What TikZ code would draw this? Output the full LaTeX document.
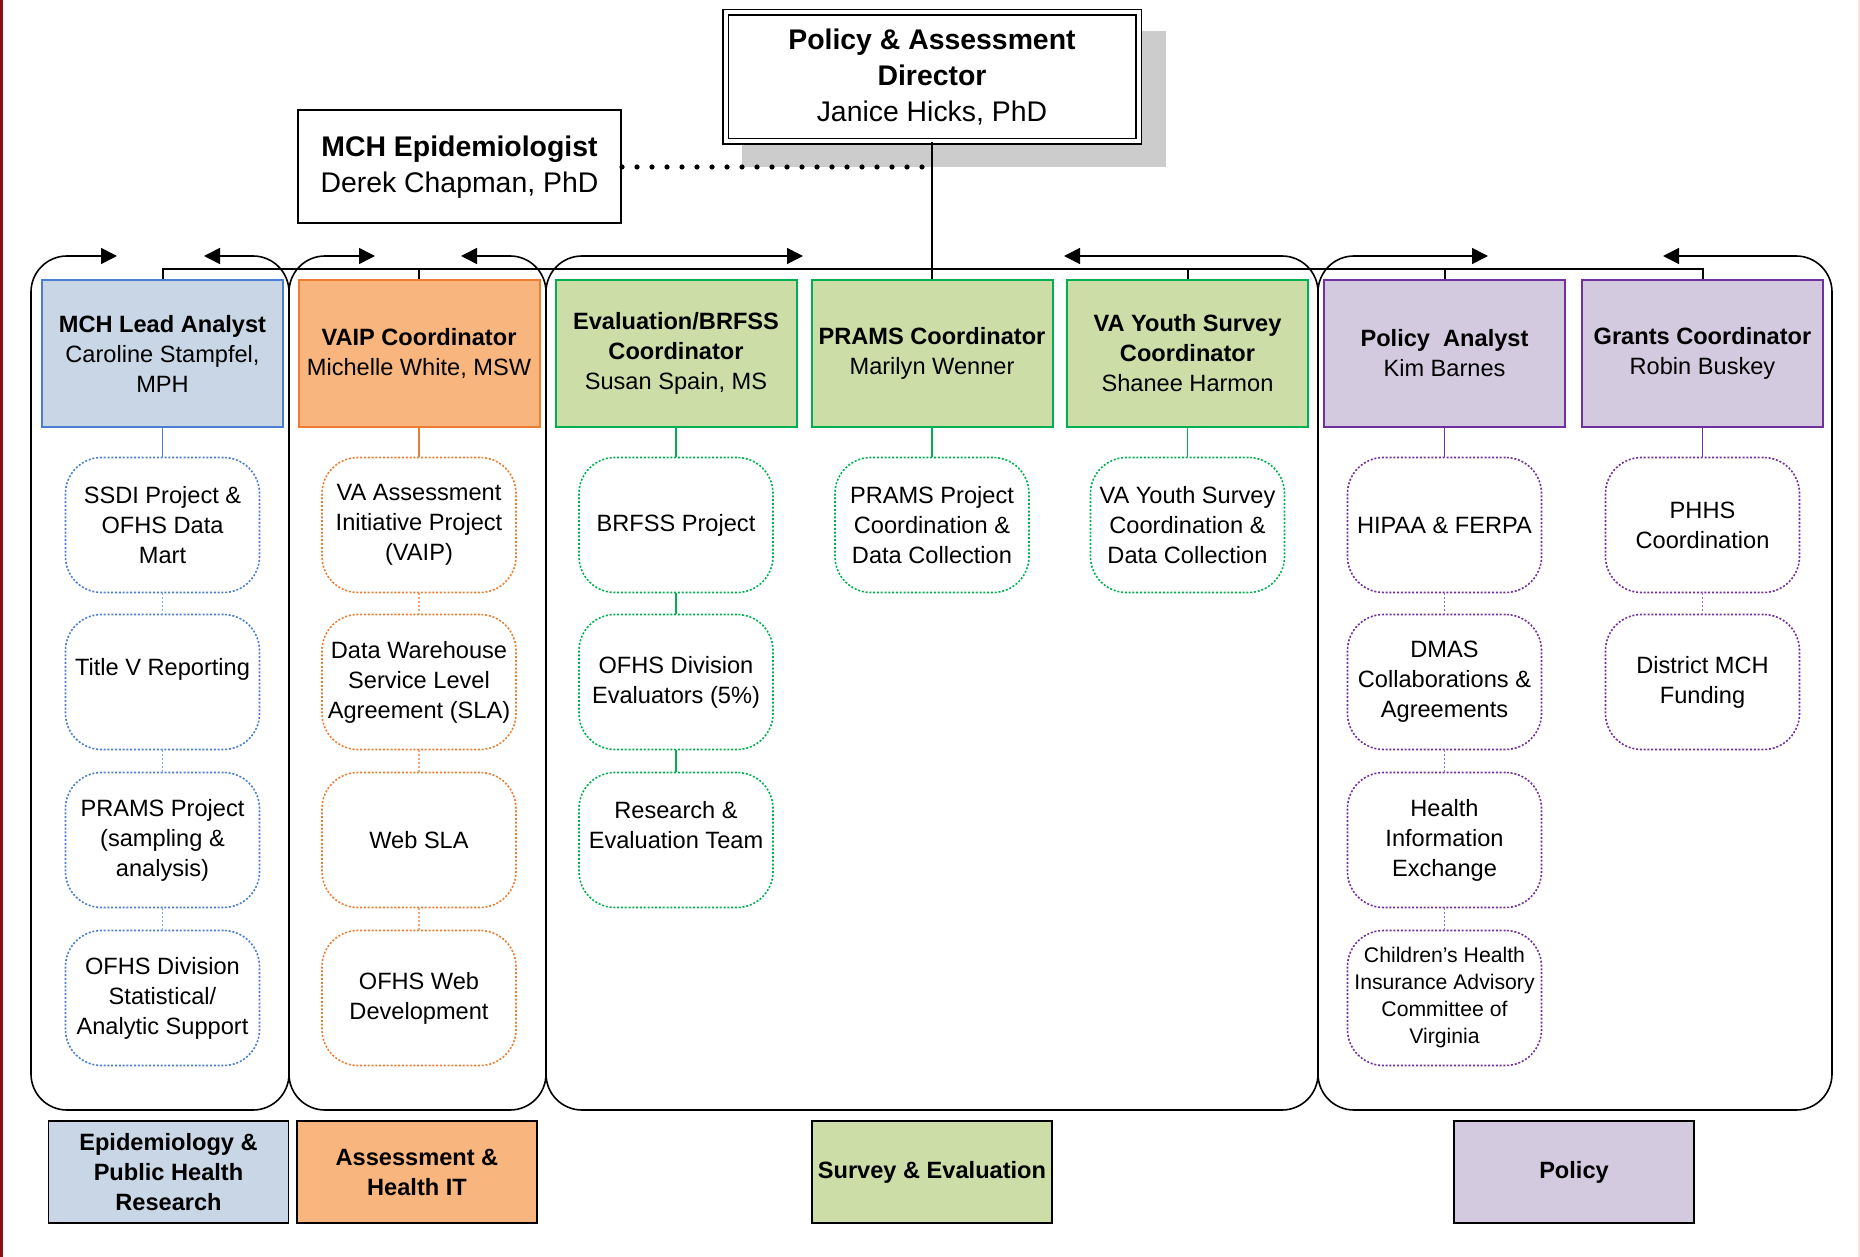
\documentclass[tikz,border=0pt]{standalone}
\usepackage{fontspec}
\setmainfont{Liberation Sans}
\usetikzlibrary{arrows.meta}
\usetikzlibrary{calc}

\definecolor{epiline}{RGB}{74,126,210}
\definecolor{epifill}{RGB}{200,214,230}
\definecolor{itline}{RGB}{237,125,49}
\definecolor{itfill}{RGB}{248,182,126}
\definecolor{survline}{RGB}{0,176,80}
\definecolor{survfill}{RGB}{204,221,168}
\definecolor{polline}{RGB}{112,48,160}
\definecolor{polfill}{RGB}{211,202,224}
\definecolor{shadegray}{RGB}{204,204,204}
\definecolor{edgered}{RGB}{140,16,16}

\newcommand{\chartbody}{\fontsize{11.8}{15}\selectfont}
\newcommand{\charttitle}{\fontsize{14.2}{18}\selectfont}
\newcommand{\chartsmall}{\fontsize{10.6}{13.5}\selectfont}

\begin{document}
\begin{tikzpicture}[x=0.5pt, y=-0.5pt,
    headbox/.style={draw, line width=1pt, minimum width=120.5pt, minimum height=73.5pt, inner sep=1pt, align=center, font=\chartbody},
    taskbox/.style={draw, line width=0.8pt, dash pattern=on 1pt off 0.9pt, rounded corners=18pt, fill=white, minimum width=97pt, minimum height=67.5pt, inner sep=1pt, align=center, font=\chartbody},
    unitbox/.style={draw=black, line width=0.9pt, minimum width=120pt, minimum height=51pt, inner sep=1pt, align=center, font=\chartbody\bfseries},
    grp/.style={draw=black, line width=0.8pt, rounded corners=18pt, {Triangle[length=8pt,width=8pt]}-{Triangle[length=8pt,width=8pt]}},
    bus/.style={draw, line width=1pt},
    sublink/.style={line width=0.7pt},
    dotlink/.style={line width=0.7pt, dash pattern=on 1pt off 1pt}]
      \useasboundingbox (0,0) rectangle (1860,1257);
      \draw[edgered, line width=1.5pt] (1.5,0) -- (1.5,1257);
      \draw[red!12, line width=0.6pt] (1859,0) -- (1859,1257);

      % director and epidemiologist
      \fill[shadegray] (742,31) rectangle (1166,167);
      \node[draw, double, double distance=2pt, line width=0.8pt, fill=white, minimum width=206.5pt, minimum height=64.5pt, inner sep=1pt, align=center, font=\charttitle] (director) at (932,77) {\textbf{Policy \& Assessment}\\\textbf{Director}\\Janice Hicks, PhD};
      \node[draw, line width=1pt, minimum width=161.5pt, minimum height=56.5pt, inner sep=1pt, align=center, font=\charttitle] (epi) at (459.5,167) {\textbf{MCH Epidemiologist}\\Derek Chapman, PhD};

      % group outlines
      \draw[grp] (117,256) -- (31,256) -- (31,1110) -- (289,1110) -- (289,256) -- (204,256);
      \draw[grp] (375,256) -- (289,256) -- (289,1110) -- (546,1110) -- (546,256) -- (461,256);
      \draw[grp] (803,256) -- (546,256) -- (546,1110) -- (1318,1110) -- (1318,256) -- (1064,256);
      \draw[grp] (1488,256) -- (1318,256) -- (1318,1110) -- (1832,1110) -- (1832,256) -- (1663,256);

      % coordinators
      \node[headbox, draw=epiline, fill=epifill] (lead) at (162.5,353.5) {\textbf{MCH Lead Analyst}\\Caroline Stampfel,\\MPH};
      \node[headbox, draw=itline, fill=itfill] (vaip) at (419,353.5) {\textbf{VAIP Coordinator}\\Michelle White, MSW};
      \node[headbox, draw=survline, fill=survfill] (eval) at (676,353.5) {\textbf{Evaluation/BRFSS}\\\textbf{Coordinator}\\Susan Spain, MS};
      \node[headbox, draw=survline, fill=survfill] (prams) at (932,353.5) {\textbf{PRAMS Coordinator}\\Marilyn Wenner};
      \node[headbox, draw=survline, fill=survfill] (youth) at (1187.5,353.5) {\textbf{VA Youth Survey}\\\textbf{Coordinator}\\Shanee Harmon};
      \node[headbox, draw=polline, fill=polfill] (policy) at (1444.5,353.5) {\textbf{Policy\ \ Analyst}\\Kim Barnes};
      \node[headbox, draw=polline, fill=polfill] (grants) at (1702.5,353.5) {\textbf{Grants Coordinator}\\Robin Buskey};

      \coordinate (busline) at (0,269);
      \draw[bus] (lead.north) -- (lead.north |- busline) -| (grants.north);
      \draw[bus] (vaip.north) -- (vaip.north |- busline);
      \draw[bus] (youth.north) -- (youth.north |- busline);
      \draw[bus] (policy.north) -- (policy.north |- busline);
      \draw[line width=1.3pt] (director.south) -- (prams.north);
      \draw[line width=2.6pt, line cap=round, dash pattern=on 0pt off 7.5pt] (epi.east) -- (epi.east -| director.south);

      % tasks
      \node[taskbox, draw=epiline] (ssdi) at (162.5,525) {SSDI Project \&\\OFHS Data\\Mart};
      \node[taskbox, draw=epiline] (titlev) at (162.5,682) {Title V Reporting\\\mbox{}};
      \node[taskbox, draw=epiline] (pramsproj) at (162.5,840) {PRAMS Project\\(sampling \&\\analysis)};
      \node[taskbox, draw=epiline] (ofhsstat) at (162.5,998) {OFHS Division\\Statistical/\\Analytic Support};

      \node[taskbox, draw=itline] (vaproj) at (419,525) {VA Assessment\\Initiative Project\\(VAIP)};
      \node[taskbox, draw=itline] (dwsla) at (419,682) {Data Warehouse\\Service Level\\Agreement (SLA)};
      \node[taskbox, draw=itline] (websla) at (419,840) {Web SLA};
      \node[taskbox, draw=itline] (webdev) at (419,998) {OFHS Web\\Development};

      \node[taskbox, draw=survline] (brfss) at (676,525) {BRFSS Project};
      \node[taskbox, draw=survline] (evaluators) at (676,682) {OFHS Division\\Evaluators (5\%)};
      \node[taskbox, draw=survline] (research) at (676,840) {Research \&\\Evaluation Team\\\mbox{}};
      \node[taskbox, draw=survline] (pramscoord) at (932,525) {PRAMS Project\\Coordination \&\\Data Collection};
      \node[taskbox, draw=survline] (youthcoord) at (1187.5,525) {VA Youth Survey\\Coordination \&\\Data Collection};

      \node[taskbox, draw=polline] (hipaa) at (1444.5,525) {HIPAA \& FERPA};
      \node[taskbox, draw=polline] (dmas) at (1444.5,682) {DMAS\\Collaborations \&\\Agreements};
      \node[taskbox, draw=polline] (hie) at (1444.5,840) {Health\\Information\\Exchange};
      \node[taskbox, draw=polline, font=\chartsmall] (chip) at (1444.5,998) {Children’s Health\\Insurance Advisory\\Committee of\\Virginia};
      \node[taskbox, draw=polline] (phhs) at (1702.5,525) {PHHS\\Coordination};
      \node[taskbox, draw=polline] (district) at (1702.5,682) {District MCH\\Funding};

      \draw[sublink, epiline] (lead) -- (ssdi);
      \draw[dotlink, epiline!70] (ssdi) -- (titlev) -- (pramsproj) -- (ofhsstat);
      \draw[sublink, itline] (vaip) -- (vaproj);
      \draw[dotlink, itline!70] (vaproj) -- (dwsla) -- (websla) -- (webdev);
      \draw[sublink, survline] (eval) -- (brfss) -- (evaluators) -- (research);
      \draw[sublink, survline] (prams) -- (pramscoord);
      \draw[sublink, survline] (youth) -- (youthcoord);
      \draw[sublink, polline] (policy) -- (hipaa);
      \draw[dotlink, polline!70] (hipaa) -- (dmas) -- (hie) -- (chip);
      \draw[sublink, polline] (grants) -- (phhs);
      \draw[dotlink, polline!70] (phhs) -- (district);

      % units
      \node[unitbox, fill=epifill] (epiunit) at (168.5,1172) {Epidemiology \&\\Public Health\\Research};
      \node[unitbox, fill=itfill] (itunit) at (417,1172) {Assessment \&\\Health IT};
      \node[unitbox, fill=survfill] (survunit) at (932,1172) {Survey \& Evaluation};
      \node[unitbox, fill=polfill] (polunit) at (1574,1172) {Policy};
    \end{tikzpicture}
\end{document}
